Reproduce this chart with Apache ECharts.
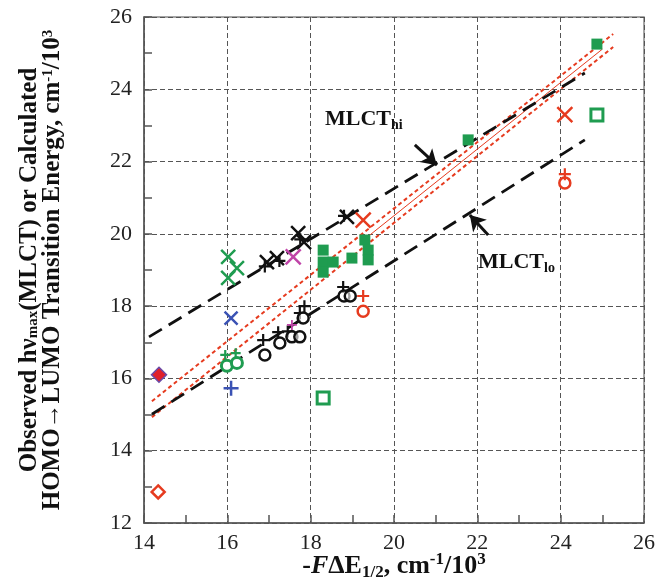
<!DOCTYPE html>
<html>
<head>
<meta charset="utf-8">
<script src="https://cdn.jsdelivr.net/npm/echarts@6/dist/echarts.min.js"></script>
<style>
  html, body { margin: 0; padding: 0; background: #fff; }
  #main { width: 655px; height: 582px; }
</style>
</head>
<body>
<div id="main"></div>
<script>
// fitted lines, [x0, x1] and [y0, y1]
const hiLineX = [14.12, 24.58], hiLineY = [17.15, 24.45]
const loLineX = [14.19, 24.58], loLineY = [15.01, 22.6]
const redUpX = [14.19, 25.26], redUpY = [15.37, 25.53]
const redLowX = [14.19, 25.26], redLowY = [14.93, 25.17]
const redMidX = [19.38, 25.0], redMidY = [19.93, 25.11]

// markers, [x, y]
const blackCross = [[16.95, 19.22], [17.19, 19.33], [17.7, 20.02], [17.84, 19.77], [18.87, 20.47]]
const blackPlusHi = [[16.9, 19.1], [17.25, 19.25], [17.75, 19.85], [18.8, 20.5]]
const blackCircle = [[16.9, 16.65], [17.26, 16.98], [17.55, 17.15], [17.74, 17.15], [17.82, 17.67], [18.8, 18.28], [18.95, 18.28]]
const blackPlusLo = [[16.86, 17.06], [17.22, 17.28], [17.45, 17.3], [17.74, 17.81], [17.85, 18.0], [18.78, 18.53]]
const magentaCross = [[17.58, 19.36]]
const magentaPlus = [[17.55, 17.48]]
const redCross = [[19.26, 20.38], [24.1, 23.3]]
const redCircle = [[19.26, 17.86], [24.1, 21.41]]
const redPlus = [[19.26, 18.28], [24.1, 21.65]]
const redDiamondOpen = [[14.34, 12.86]]
const redDiamondFull = [[14.36, 16.1]]
const blueCross = [[16.09, 17.67]]
const bluePlus = [[16.09, 15.73]]
const greenCross = [[16.02, 19.36], [16.23, 19.05], [16.02, 18.78]]
const greenCircle = [[15.99, 16.35], [16.23, 16.43]]
const greenPlus = [[15.95, 16.65], [16.2, 16.7]]
const greenSquare = [[18.3, 19.55], [18.3, 19.22], [18.3, 18.94], [18.54, 19.22], [18.99, 19.33],
  [19.3, 19.83], [19.38, 19.55], [19.38, 19.28], [21.78, 22.6], [24.87, 25.25]]
const greenSquareOpen = [[24.87, 23.29], [18.3, 15.46]]

// annotation arrows [[from], [to]]
const arrowHi = [[20.5, 22.46], [21.03, 21.9]]
const arrowLo = [[22.26, 19.97], [21.82, 20.52]]

const pair = (xs, ys) => xs.map((x, i) => [x, ys[i]])
const X_PATH = 'path://M0,0L10,10M10,0L0,10'
const PLUS_PATH = 'path://M5,0L5,10M0,5L10,5'

const BLACK = '#111'
const RED = '#e63b1f'
const GREEN = '#1f9c50'
const BLUE = '#3a52b4'
const MAGENTA = '#c044a8'
const SERIF = '"Liberation Serif", "DejaVu Serif", serif'

const lineSeries = (xs, ys, color, width, type) => ({
  type: 'line', data: pair(xs, ys), symbol: 'none', silent: true,
  lineStyle: {color: color, width: width, type: type}, z: 2
})
const strokeSeries = (data, path, color, size, width) => ({
  type: 'scatter', data: data, symbol: path, symbolSize: size, z: 5,
  itemStyle: {color: 'transparent', borderColor: color, borderWidth: width, opacity: 1}
})
const fillSeries = (data, symbol, size, fill, border, width) => ({
  type: 'scatter', data: data, symbol: symbol, symbolSize: size, z: 5,
  itemStyle: {color: fill, borderColor: border, borderWidth: width, opacity: 1}
})
const arrowMark = (pts) => ({
  type: 'line', data: [], symbol: 'none', silent: true,
  markLine: {
    silent: true, symbol: ['none', 'arrow'], symbolSize: [14, 15],
    lineStyle: {color: BLACK, width: 3, type: 'solid'}, label: {show: false},
    data: [[{coord: pts[0]}, {coord: pts[1]}]]
  }
})

const axisCommon = {
  axisLine: {lineStyle: {color: '#555', width: 1.5}},
  axisTick: {show: true, inside: true, length: 8, lineStyle: {color: '#555', width: 1.5}},
  minorTick: {show: true, splitNumber: 2, length: 8, lineStyle: {color: '#555', width: 1.5}},
  splitLine: {show: true, lineStyle: {color: '#555', width: 1, type: [5, 3]}},
  axisLabel: {fontFamily: SERIF, fontSize: 22, color: '#222'}
}
const bold = (size, extra) => Object.assign({fontFamily: SERIF, fontSize: size, fontWeight: 'bold', color: '#111'}, extra || {})

const chart = echarts.init(document.getElementById('main'))
chart.setOption({
  backgroundColor: '#fff',
  animation: false,
  grid: {left: 144, right: 11, top: 17, bottom: 59, show: true, borderColor: '#888', borderWidth: 1.5,
    outerBoundsMode: 'none', containLabel: false},
  xAxis: Object.assign({}, axisCommon, {
    type: 'value', min: 14, max: 26, interval: 2,
    axisLabel: Object.assign({}, axisCommon.axisLabel, {margin: 9}),
    name: '-{i|F}ΔE{sub|1/2}, cm{sup|-1}/10{sup|3}',
    nameLocation: 'middle', nameGap: 28, nameMoveOverlap: false,
    nameTextStyle: bold(26, {
      lineHeight: 30,
      rich: {
        i: bold(26, {fontStyle: 'italic', lineHeight: 30}),
        sub: bold(17, {lineHeight: 17, verticalAlign: 'bottom'}),
        sup: bold(17, {lineHeight: 17, verticalAlign: 'top'})
      }
    })
  }),
  yAxis: Object.assign({}, axisCommon, {
    type: 'value', min: 12, max: 26, interval: 2,
    axisLabel: Object.assign({}, axisCommon.axisLabel, {margin: 12}),
    name: 'Observed hν{sub|max}(MLCT) or Calculated\nHOMO→LUMO Transition Energy, cm{sup|-1}/10{sup|3}',
    nameLocation: 'middle', nameRotate: 90, nameGap: 80, nameMoveOverlap: false,
    nameTextStyle: bold(25, {
      lineHeight: 23,
      rich: {
        sub: bold(15, {lineHeight: 15, verticalAlign: 'bottom'}),
        sup: bold(15, {lineHeight: 15, verticalAlign: 'top'})
      }
    })
  }),
  graphic: [
    {
      type: 'text', left: 325, top: 108, z: 10,
      style: {
        text: '{m|MLCT}{s|hi}',
        rich: {
          m: {fontFamily: SERIF, fontSize: 22, fontWeight: 'bold', fill: '#111', lineHeight: 26},
          s: {fontFamily: SERIF, fontSize: 14, fontWeight: 'bold', fill: '#111', lineHeight: 16, verticalAlign: 'bottom'}
        }
      }
    },
    {
      type: 'text', left: 478, top: 251, z: 10,
      style: {
        text: '{m|MLCT}{s|lo}',
        rich: {
          m: {fontFamily: SERIF, fontSize: 22, fontWeight: 'bold', fill: '#111', lineHeight: 26},
          s: {fontFamily: SERIF, fontSize: 14, fontWeight: 'bold', fill: '#111', lineHeight: 16, verticalAlign: 'bottom'}
        }
      }
    }
  ],
  series: [
    lineSeries(redUpX, redUpY, RED, 2, [4, 3]),
    lineSeries(redLowX, redLowY, RED, 2, [4, 3]),
    lineSeries(redMidX, redMidY, RED, 1, 'solid'),
    lineSeries(hiLineX, hiLineY, BLACK, 2.8, [15, 8]),
    lineSeries(loLineX, loLineY, BLACK, 2.8, [15, 8]),
    arrowMark(arrowHi),
    arrowMark(arrowLo),
    strokeSeries(blackCross, X_PATH, BLACK, 14, 2.5),
    strokeSeries(blackPlusHi, PLUS_PATH, BLACK, 12, 2.2),
    strokeSeries(blackPlusLo, PLUS_PATH, BLACK, 12, 2.2),
    fillSeries(blackCircle, 'circle', 11, 'rgba(255,255,255,0.6)', BLACK, 2.5),
    strokeSeries(magentaCross, X_PATH, MAGENTA, 15, 2.5),
    strokeSeries(magentaPlus, PLUS_PATH, MAGENTA, 10, 1.8),
    strokeSeries(redCross, X_PATH, RED, 15, 2.5),
    fillSeries(redCircle, 'circle', 11, '#fff', RED, 2.5),
    strokeSeries(redPlus, PLUS_PATH, RED, 12, 2.2),
    fillSeries(redDiamondOpen, 'diamond', 13, '#fff', RED, 2.5),
    fillSeries(redDiamondFull, 'diamond', 15, '#e0202a', '#6a4aa8', 1.5),
    strokeSeries(blueCross, X_PATH, BLUE, 13, 2.5),
    strokeSeries(bluePlus, PLUS_PATH, BLUE, 15, 2.5),
    strokeSeries(greenCross, X_PATH, GREEN, 14, 2.5),
    strokeSeries(greenPlus, PLUS_PATH, GREEN, 10, 2.2),
    fillSeries(greenCircle, 'circle', 11, '#fff', GREEN, 3),
    fillSeries(greenSquare, 'rect', 11, GREEN, GREEN, 0),
    fillSeries(greenSquareOpen, 'rect', 12, '#fff', GREEN, 3)
  ]
})
</script>
</body>
</html>
